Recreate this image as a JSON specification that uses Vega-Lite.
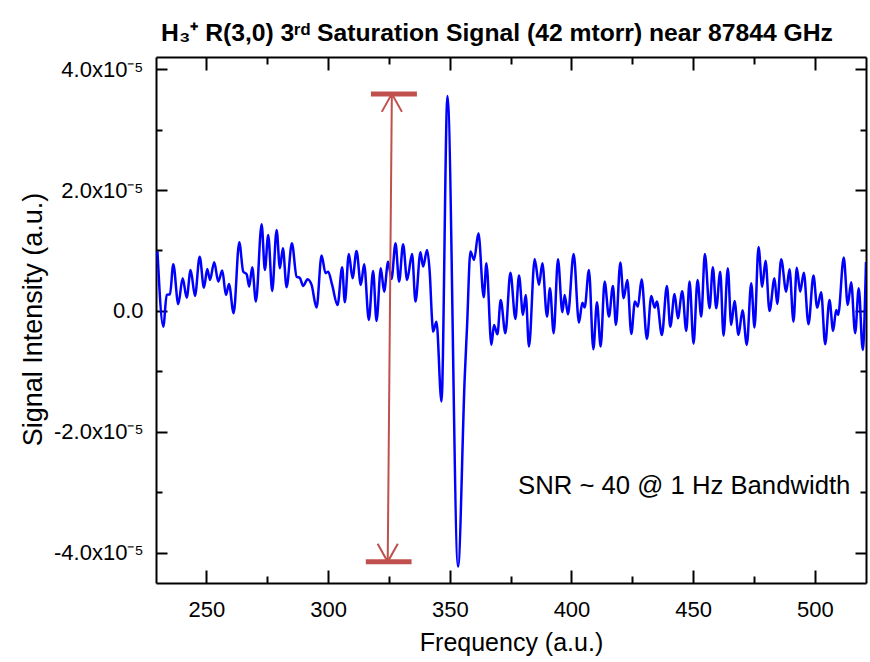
{
  "$schema": "https://vega.github.io/schema/vega-lite/v6.json",
  "width": 710,
  "height": 526,
  "autosize": "none",
  "padding": {"left": 156, "top": 57, "right": 4, "bottom": 79},
  "background": "white",
  "config": {"view": {"stroke": null}, "font": "Liberation Sans"},
  "title": {
    "text": "H₃⁺ R(3,0) 3ʳᵈ Saturation Signal (42 mtorr) near 87844 GHz",
    "font": "Liberation Sans",
    "fontSize": 24.7,
    "fontWeight": "bold",
    "color": "black",
    "anchor": "middle",
    "offset": 10,
    "dx": -14
  },
  "datasets": {
    "signal": [
      {"f": 229.9, "s": 9.84e-6}, {"f": 232.3, "s": -2.6e-6}, {"f": 233.7, "s": 2.65e-6}, {"f": 235.05, "s": 2.76e-6},
      {"f": 236.4, "s": 7.72e-6}, {"f": 238.45, "s": 1.11e-6}, {"f": 240.26, "s": 5.41e-6}, {"f": 241.9, "s": 2.2e-6},
      {"f": 243.54, "s": 6.78e-6}, {"f": 245.31, "s": 2.48e-6}, {"f": 247.24, "s": 8.98e-6}, {"f": 249.0, "s": 3.85e-6},
      {"f": 250.36, "s": 6.95e-6}, {"f": 251.47, "s": 5.13e-6}, {"f": 253.23, "s": 8.06e-6}, {"f": 254.87, "s": 4.85e-6},
      {"f": 256.52, "s": 6.67e-6}, {"f": 258.04, "s": 2.65e-6}, {"f": 259.27, "s": 4.47e-6}, {"f": 261.2, "s": -3.8e-7},
      {"f": 263.5, "s": 1.136e-5}, {"f": 265.14, "s": 6.5e-6}, {"f": 266.53, "s": 6.07e-6}, {"f": 267.6, "s": 4.02e-6},
      {"f": 268.83, "s": 7.23e-6}, {"f": 270.35, "s": 1.54e-6}, {"f": 272.69, "s": 1.434e-5}, {"f": 274.04, "s": 6.78e-6},
      {"f": 275.4, "s": 1.257e-5}, {"f": 277.04, "s": 3.31e-6}, {"f": 278.85, "s": 1.34e-5}, {"f": 280.2, "s": 7.06e-6},
      {"f": 281.44, "s": 1.037e-5}, {"f": 282.95, "s": 3.92e-6}, {"f": 285.13, "s": 1.12e-5}, {"f": 287.06, "s": 5.67e-6},
      {"f": 288.4, "s": 5.46e-6}, {"f": 289.77, "s": 4.13e-6}, {"f": 291.57, "s": 5.24e-6}, {"f": 293.22, "s": 4.3e-6},
      {"f": 295.27, "s": 5.5e-7}, {"f": 297.32, "s": 9.15e-6}, {"f": 298.96, "s": 6.24e-6}, {"f": 300.03, "s": 6.5e-6},
      {"f": 301.67, "s": 4.3e-6}, {"f": 303.89, "s": 9.9e-7}, {"f": 305.78, "s": 7.23e-6}, {"f": 306.88, "s": 1.44e-6},
      {"f": 308.53, "s": 9.43e-6}, {"f": 310.05, "s": 5.41e-6}, {"f": 311.69, "s": 9.92e-6}, {"f": 313.45, "s": 4.3e-6},
      {"f": 314.81, "s": 7.72e-6}, {"f": 316.74, "s": -1.49e-6}, {"f": 318.5, "s": 6.62e-6}, {"f": 319.9, "s": -1.65e-6},
      {"f": 321.66, "s": 7.06e-6}, {"f": 323.02, "s": 3.19e-6}, {"f": 324.66, "s": 8.15e-6}, {"f": 326.06, "s": 5.29e-6},
      {"f": 327.7, "s": 1.12e-5}, {"f": 329.18, "s": 4.85e-6}, {"f": 330.82, "s": 1.103e-5}, {"f": 332.46, "s": 5.13e-6},
      {"f": 334.51, "s": 9.43e-6}, {"f": 335.91, "s": 1.54e-6}, {"f": 337.96, "s": 9.71e-6}, {"f": 339.03, "s": 7.33e-6},
      {"f": 340.67, "s": 1.009e-5}, {"f": 341.78, "s": 6.24e-6}, {"f": 342.72, "s": -1.49e-6}, {"f": 343.13, "s": -3.42e-6},
      {"f": 344.53, "s": -1.77e-6}, {"f": 346.58, "s": -1.5e-5}, {"f": 349.04, "s": 3.556e-5}, {"f": 353.39, "s": -4.229e-5},
      {"f": 356.15, "s": -1.087e-5}, {"f": 357.09, "s": -2.6e-6}, {"f": 358.48, "s": 9.81e-6}, {"f": 359.96, "s": 8.44e-6},
      {"f": 361.77, "s": 1.285e-5}, {"f": 363.94, "s": 2.27e-6}, {"f": 365.05, "s": 7.89e-6}, {"f": 367.1, "s": -5.62e-6},
      {"f": 368.17, "s": -2.32e-6}, {"f": 369.57, "s": -3.85e-6}, {"f": 370.92, "s": 1.82e-6}, {"f": 372.85, "s": -3.69e-6},
      {"f": 374.91, "s": 6.33e-6}, {"f": 376.96, "s": -1.32e-6}, {"f": 378.44, "s": 5.84e-6}, {"f": 380.08, "s": -6.6e-7},
      {"f": 381.19, "s": 2.65e-6}, {"f": 382.54, "s": -5.9e-6}, {"f": 384.88, "s": 8.6e-6}, {"f": 386.65, "s": 4.3e-6},
      {"f": 388.04, "s": 7.89e-6}, {"f": 389.93, "s": -9.4e-7}, {"f": 391.16, "s": 3.75e-6}, {"f": 392.68, "s": -3.69e-6},
      {"f": 394.45, "s": 8.55e-6}, {"f": 396.25, "s": -2.2e-7}, {"f": 397.2, "s": 2.65e-6}, {"f": 398.55, "s": -5.5e-7},
      {"f": 400.89, "s": 9.43e-6}, {"f": 403.07, "s": -1.94e-6}, {"f": 404.46, "s": 1.37e-6}, {"f": 405.4, "s": 5.5e-7},
      {"f": 407.17, "s": 6.78e-6}, {"f": 408.98, "s": -6.33e-6}, {"f": 410.46, "s": 1.44e-6}, {"f": 411.98, "s": -5.9e-6},
      {"f": 413.62, "s": 4.85e-6}, {"f": 415.39, "s": -9.4e-7}, {"f": 417.03, "s": 4.14e-6}, {"f": 418.26, "s": -2.32e-6},
      {"f": 420.07, "s": 7.99e-6}, {"f": 421.42, "s": 2.1e-6}, {"f": 422.94, "s": 5.13e-6}, {"f": 424.58, "s": -3.8e-6},
      {"f": 426.06, "s": 1.54e-6}, {"f": 427.29, "s": 7.1e-7}, {"f": 428.81, "s": 5.24e-6}, {"f": 430.99, "s": -4.63e-6},
      {"f": 432.79, "s": 2.48e-6}, {"f": 434.15, "s": 5.5e-7}, {"f": 435.09, "s": 1.54e-6}, {"f": 437.14, "s": -3.97e-6},
      {"f": 439.2, "s": 4.14e-6}, {"f": 440.59, "s": -2.6e-6}, {"f": 442.36, "s": 2.81e-6}, {"f": 443.7, "s": -1.21e-6},
      {"f": 445.51, "s": 3.26e-6}, {"f": 447.15, "s": -3.31e-6}, {"f": 448.51, "s": 4.85e-6}, {"f": 450.15, "s": -5.41e-6},
      {"f": 451.79, "s": 5.13e-6}, {"f": 453.31, "s": -9.4e-7}, {"f": 454.79, "s": 9.43e-6}, {"f": 456.72, "s": 4.5e-7},
      {"f": 458.08, "s": 7.23e-6}, {"f": 459.47, "s": 4.5e-7}, {"f": 461.11, "s": 6.5e-6}, {"f": 462.47, "s": -4.09e-6},
      {"f": 464.23, "s": 7.06e-6}, {"f": 465.63, "s": -2.32e-6}, {"f": 466.98, "s": 1.65e-6}, {"f": 468.62, "s": -3.97e-6},
      {"f": 470.27, "s": 1.2e-7}, {"f": 472.03, "s": -5.62e-6}, {"f": 473.84, "s": 4.58e-6}, {"f": 475.2, "s": -2.76e-6},
      {"f": 476.84, "s": 1.059e-5}, {"f": 478.36, "s": 4.02e-6}, {"f": 479.72, "s": 8.32e-6}, {"f": 481.36, "s": 0},
      {"f": 483.41, "s": 5.41e-6}, {"f": 484.52, "s": 1.16e-6}, {"f": 486.16, "s": 8.55e-6}, {"f": 488.21, "s": 3.19e-6},
      {"f": 489.57, "s": 6.9e-6}, {"f": 491.21, "s": -1.77e-6}, {"f": 492.56, "s": 7.16e-6}, {"f": 493.96, "s": 3.19e-6},
      {"f": 495.44, "s": 6.33e-6}, {"f": 497.37, "s": -2.2e-6}, {"f": 499.42, "s": 5.84e-6}, {"f": 500.94, "s": 5.5e-7},
      {"f": 502.58, "s": 3.09e-6}, {"f": 504.22, "s": -5.51e-6}, {"f": 505.99, "s": 1.82e-6}, {"f": 507.5, "s": -3.31e-6},
      {"f": 508.74, "s": 1.7e-7}, {"f": 509.56, "s": -6.6e-7}, {"f": 511.86, "s": 8.82e-6}, {"f": 513.5, "s": 9.9e-7},
      {"f": 514.9, "s": 4.75e-6}, {"f": 516.54, "s": -3.69e-6}, {"f": 518.02, "s": 3.75e-6}, {"f": 519.66, "s": -6.45e-6},
      {"f": 521.0, "s": 8.1e-6}
    ],
    "shaft": [{"f": 326.2, "s": 3.59e-5, "f2": 324.5, "s2": -4.15e-5}],
    "caps": [{"f1": 317.6, "f2": 336.5, "s": 3.59e-5}, {"f1": 315.5, "f2": 334.3, "s": -4.15e-5}],
    "heads": [{"f": 326.2, "s": 3.59e-5, "dir": "up"}, {"f": 324.5, "s": -4.15e-5, "dir": "down"}],
    "note": [{"f": 514.6, "s": -2.89e-5, "label": "SNR ~ 40 @ 1 Hz Bandwidth"}]
  },
  "layer": [
    {
      "data": {"name": "signal"},
      "mark": {"type": "line", "color": "#0000FF", "strokeWidth": 2.5, "interpolate": "monotone", "clip": true},
      "encoding": {
        "x": {
          "field": "f", "type": "quantitative",
          "scale": {"domain": [229.3, 521], "nice": false, "zero": false},
          "axis": {
            "orient": "bottom",
            "values": [250, 275, 300, 325, 350, 375, 400, 425, 450, 475, 500],
            "labelExpr": "datum.value % 50 == 0 ? datum.label : ''",
            "tickSize": {"condition": {"test": "datum.value % 50 == 0", "value": -13}, "value": -7},
            "tickWidth": 2, "tickColor": "black",
            "domainColor": "black", "domainWidth": 2,
            "grid": false,
            "labelFont": "Liberation Sans", "labelFontSize": 22, "labelColor": "black",
            "labelPadding": 29, "labelFlush": false, "labelOverlap": false,
            "title": "Frequency (a.u.)",
            "titleFont": "Liberation Sans", "titleFontSize": 25, "titleFontWeight": "normal", "titleColor": "black",
            "titleY": 67, "titleBaseline": "alphabetic"
          }
        },
        "y": {
          "field": "s", "type": "quantitative",
          "scale": {"domain": [-4.5e-5, 4.2e-5], "nice": false, "zero": false},
          "axis": {
            "orient": "left",
            "values": [-4e-5, -3e-5, -2e-5, -1e-5, 0, 1e-5, 2e-5, 3e-5, 4e-5],
            "labelExpr": "abs(round(datum.value*1e5)) % 2 == 0 ? (datum.value == 0 ? '0.0' : (datum.value < 0 ? '-' : '') + format(abs(datum.value)*1e5, '.1f') + 'x10⁻⁵') : ''",
            "tickSize": {"condition": {"test": "abs(round(datum.value*1e5)) % 2 == 0", "value": -11}, "value": -6},
            "tickWidth": 2, "tickColor": "black",
            "domainColor": "black", "domainWidth": 2,
            "grid": false,
            "labelFont": "Liberation Sans", "labelFontSize": 22, "labelColor": "black",
            "labelPadding": 24, "labelFlush": false, "labelOverlap": false,
            "title": "Signal Intensity (a.u.)",
            "titleFont": "Liberation Sans", "titleFontSize": 27, "titleFontWeight": "normal", "titleColor": "black",
            "titleX": -123, "titleY": 262, "titleAngle": -90, "titleBaseline": "middle", "titleAlign": "center"
          }
        }
      }
    },
    {
      "data": {"name": "shaft"},
      "mark": {"type": "rule", "color": "#C0504D", "strokeWidth": 2},
      "encoding": {
        "x": {
          "field": "f", "type": "quantitative",
          "scale": {"domain": [229.3, 521], "nice": false, "zero": false},
          "axis": {
            "orient": "top",
            "values": [250, 275, 300, 325, 350, 375, 400, 425, 450, 475, 500],
            "labels": false, "title": null, "grid": false,
            "tickSize": {"condition": {"test": "datum.value % 50 == 0", "value": -13}, "value": -7},
            "tickWidth": 2, "tickColor": "black",
            "domainColor": "black", "domainWidth": 2
          }
        },
        "x2": {"field": "f2"},
        "y": {
          "field": "s", "type": "quantitative",
          "scale": {"domain": [-4.5e-5, 4.2e-5], "nice": false, "zero": false},
          "axis": {
            "orient": "right",
            "values": [-4e-5, -3e-5, -2e-5, -1e-5, 0, 1e-5, 2e-5, 3e-5, 4e-5],
            "labels": false, "title": null, "grid": false,
            "tickSize": {"condition": {"test": "abs(round(datum.value*1e5)) % 2 == 0", "value": -11}, "value": -6},
            "tickWidth": 2, "tickColor": "black",
            "domainColor": "black", "domainWidth": 2
          }
        },
        "y2": {"field": "s2"}
      }
    },
    {
      "data": {"name": "caps"},
      "mark": {"type": "rule", "color": "#C0504D", "strokeWidth": 5},
      "encoding": {
        "x": {"field": "f1", "type": "quantitative", "axis": null},
        "x2": {"field": "f2"},
        "y": {"field": "s", "type": "quantitative", "axis": null}
      }
    },
    {
      "data": {"name": "heads"},
      "mark": {"type": "point", "filled": false, "stroke": "#C0504D", "strokeWidth": 2, "size": 1296, "opacity": 1},
      "encoding": {
        "x": {"field": "f", "type": "quantitative", "axis": null},
        "y": {"field": "s", "type": "quantitative", "axis": null},
        "shape": {
          "field": "dir", "type": "nominal", "legend": null,
          "scale": {"domain": ["up", "down"], "range": ["M-0.56,1L0,0L0.56,1", "M-0.56,-1L0,0L0.56,-1"]}
        }
      }
    },
    {
      "data": {"name": "note"},
      "mark": {"type": "text", "align": "right", "baseline": "middle", "font": "Liberation Sans", "fontSize": 25.7, "color": "black"},
      "encoding": {
        "x": {"field": "f", "type": "quantitative", "axis": null},
        "y": {"field": "s", "type": "quantitative", "axis": null},
        "text": {"field": "label"}
      }
    }
  ],
  "resolve": {"axis": {"x": "independent", "y": "independent"}}
}
